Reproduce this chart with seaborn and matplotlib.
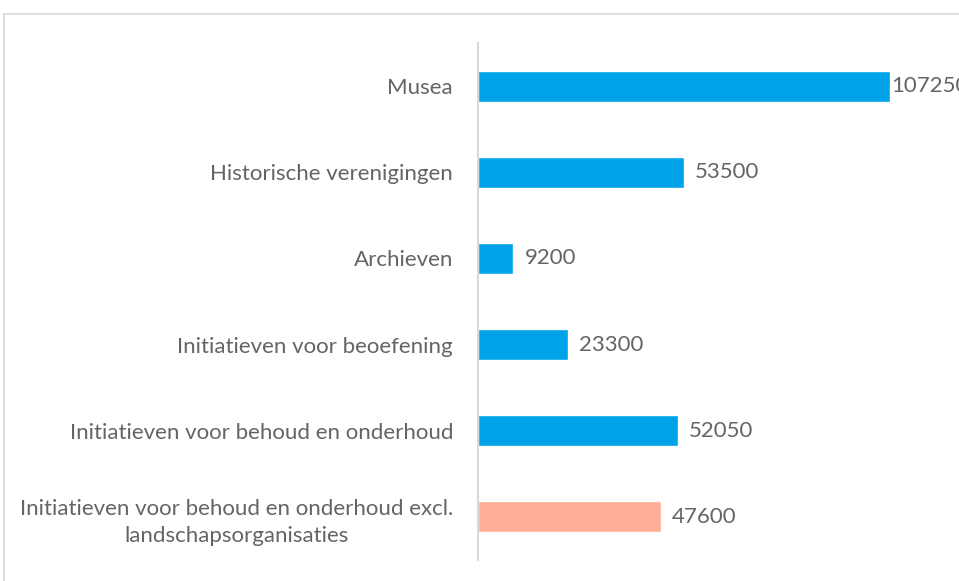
import matplotlib
matplotlib.use("Agg")
import matplotlib.pyplot as plt
import seaborn as sns
import pandas as pd
from matplotlib.patches import Rectangle

# data
categories = ["Musea", "Historische verenigingen", "Archieven",
              "Initiatieven voor beoefening",
              "Initiatieven voor behoud en onderhoud",
              "Initiatieven voor behoud en onderhoud excl.\nlandschapsorganisaties"]
values = [107250, 53500, 9200, 23300, 52050, 47600]
groups = ["incl", "incl", "incl", "incl", "incl", "excl"]

df = pd.DataFrame({"categorie": categories, "aantal": values, "groep": groups})

sns.set_style("white")
plt.rcParams['font.family'] = ['Lato', 'DejaVu Sans']
text_grey = "#646464"
fs = 16

fig = plt.figure(figsize=(9.59, 5.81), dpi=100)
ax = fig.add_axes([478/959, 1 - 560/581, 1 - 478/959, 517/581])

sns.barplot(data=df, x="aantal", y="categorie", hue="groep",
            palette={"incl": "#00A2E8", "excl": "#FFAD97"},
            dodge=False, legend=False, width=0.36, ax=ax, saturation=1)

# value labels (the top one sits tight against its bar, as in the original)
for c in ax.containers:
    for bar in c:
        w = bar.get_width()
        if w == 0 or w != w:
            continue
        pad = 1 if w == max(values) else 8
        ax.annotate(f"{int(w)}", (w, bar.get_y() + bar.get_height() / 2),
                    xytext=(pad, 0), textcoords="offset points",
                    ha="left", va="center", color=text_grey, fontsize=fs)

ax.set_xlim(0, 125200)
ax.set_ylim(5.5, -0.5)
ax.set_xlabel("")
ax.set_ylabel("")
ax.set_xticks([])
ax.tick_params(axis="y", length=0, pad=18, labelsize=fs, labelcolor=text_grey)
for lbl in ax.get_yticklabels():
    lbl.set_multialignment("center")
    lbl.set_linespacing(1.45)

for s in ["top", "right", "bottom"]:
    ax.spines[s].set_visible(False)
ax.spines["left"].set_color("#D9D9D9")
ax.spines["left"].set_linewidth(1.5)

# chart frame
fig.patches.append(Rectangle((4/959, -0.2), 1.2, 1 - 14/581 + 0.2,
                             transform=fig.transFigure, fill=False,
                             edgecolor="#D9D9D9", linewidth=1.2, zorder=0))

fig.savefig("out.png", dpi=100)
